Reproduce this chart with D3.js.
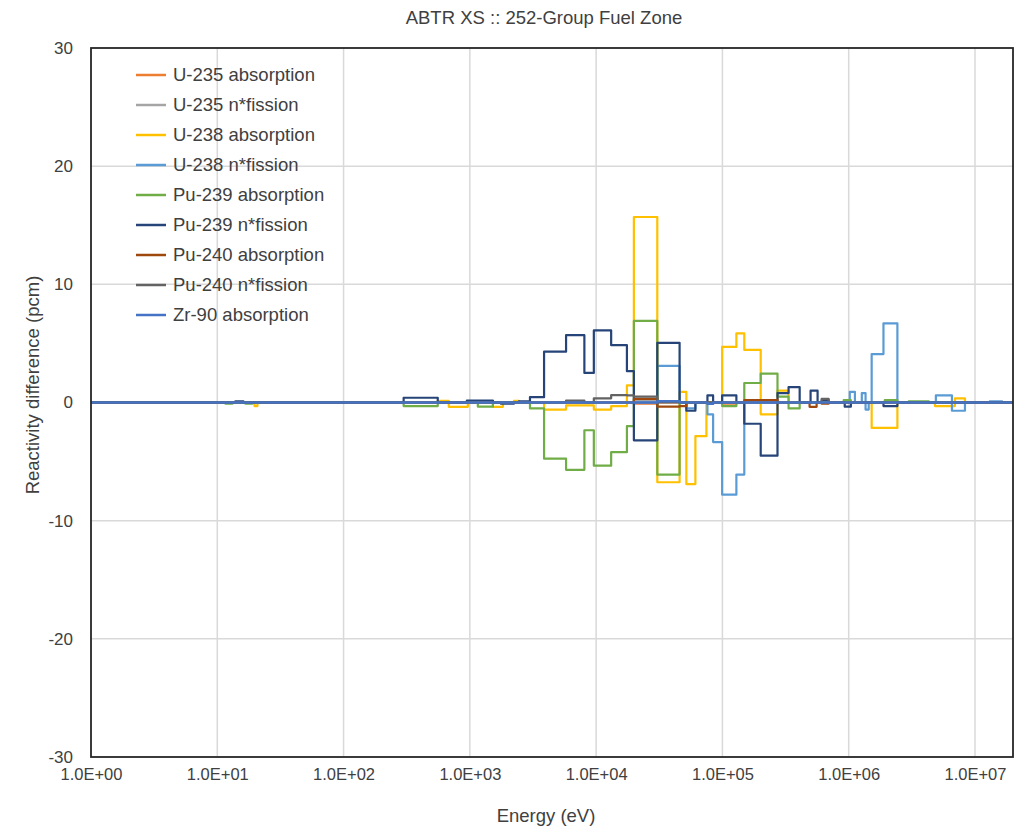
<!DOCTYPE html>
<html>
<head>
<meta charset="utf-8">
<script src="https://cdn.jsdelivr.net/npm/d3@7"></script>
<style>
  body { margin: 0; background: #fff; }
  text { font-family: "Liberation Sans", Arial, sans-serif; fill: #404040; }
</style>
</head>
<body>
<svg id="chart"></svg>
<script>
var width = 1027, height = 828;

// energy range (eV)
var xDomain = [1, 2e7];
var yDomain = [-30, 30];
var xTicks = [1, 10, 100, 1e3, 1e4, 1e5, 1e6, 1e7];
var xTickLabels = ["1.0E+00","1.0E+01","1.0E+02","1.0E+03","1.0E+04","1.0E+05","1.0E+06","1.0E+07"];
var yTicks = [-30, -20, -10, 0, 10, 20, 30];

var seriesNames = ["U-235 absorption","U-235 n*fission","U-238 absorption","U-238 n*fission",
  "Pu-239 absorption","Pu-239 n*fission","Pu-240 absorption","Pu-240 n*fission","Zr-90 absorption"];
var seriesColors = ["#ED7D31","#A5A5A5","#FFC000","#5B9BD5","#70AD47","#264478","#9E480E","#636363","#4472C4"];

// groups: [E low, E high, value in pcm]; zero elsewhere
var u235Abs = [[19900,30500,-0.1],[99500,129000,-0.1]];
var u235Fis = [[19900,30500,0.15],[30500,45800,0.1]];
var u238Abs = [[19.7,20.8,-0.3],[557,681,0.15],[681,964,-0.37],[1523,1828,-0.37],[2234,2448,0.15],
  [3870,5780,-0.6],[5780,9590,-0.25],[9590,13150,-0.6],[13150,17530,-0.3],[17530,19900,1.45],
  [19900,30500,15.7],[30500,45800,-6.75],[45800,51800,0.9],[51800,61100,-6.9],[61100,74700,-2.85],
  [99500,129000,4.7],[129000,149000,5.85],[149000,201000,4.45],[201000,273000,-1.0],[273000,334000,1.0],
  [1.52e6,2.43e6,-2.15],[4.82e6,6.93e6,-0.3],[6.93e6,8.33e6,0.35]];
var u238Fis = [[30500,45800,3.1],[51800,61100,-0.5],[76100,84400,-1.0],[84400,99500,-3.35],
  [99500,129000,-7.8],[129000,149000,-6.1],[1.02e6,1.12e6,0.9],[1.27e6,1.36e6,0.8],[1.36e6,1.44e6,-0.6],
  [1.52e6,1.885e6,4.1],[1.885e6,2.43e6,6.7],[4.9e6,6.57e6,0.6],[6.57e6,8.33e6,-0.7],[1.31e7,1.64e7,0.1]];
var pu239Abs = [[11.6,13.2,-0.1],[16.7,18.9,-0.1],[299,557,-0.3],[1157,1523,-0.35],[2993,3870,-0.5],
  [3870,5780,-4.75],[5780,8070,-5.7],[8070,9590,-2.35],[9590,13150,-5.35],[13150,17530,-4.2],
  [17530,19900,-2.0],[19900,30500,6.9],[30500,45800,-6.1],[99500,129000,-0.3],[149000,201000,1.65],
  [201000,273000,2.45],[273000,334000,0.5],[334000,409000,-0.5],[913000,1.04e6,0.2],[1.93e6,2.43e6,0.2],
  [2.99e6,4.31e6,0.1]];
var pu239Fis = [[13.9,16.1,0.1],[299,557,0.4],[947,1523,0.17],[1762,2234,-0.1],[2448,2993,0.1],
  [2993,3870,0.45],[3870,5780,4.3],[5780,8070,5.7],[8070,9590,2.5],[9590,13150,6.1],[13150,17530,4.85],
  [17530,19900,2.65],[19900,30500,-3.2],[30500,45800,5.05],[51800,61100,-0.7],[76100,84400,0.6],
  [99500,129000,0.6],[149000,201000,-1.8],[201000,273000,-4.5],[273000,334000,0.8],[334000,409000,1.3],
  [499000,567000,1.0],[611000,694000,0.2],[930000,1.04e6,-0.35],[1.885e6,2.43e6,-0.3]];
var pu240Abs = [[19900,30500,0.3],[30500,45800,-0.35],[45800,51800,-0.3],[149000,273000,0.2],
  [490000,557000,-0.37],[611000,694000,-0.1]];
var pu240Fis = [[5780,8070,0.17],[9590,13150,0.35],[13150,17530,0.62],[17530,19900,0.6],
  [19900,30500,0.5],[611000,694000,0.3]];
var zr90Abs = [[30500,45800,0.1],[76100,84400,-0.1]];

var seriesData = [u235Abs, u235Fis, u238Abs, u238Fis, pu239Abs, pu239Fis, pu240Abs, pu240Fis, zr90Abs];

var margin = {top: 48, right: 14, bottom: 71, left: 91};

var svg = d3.select("#chart")
    .attr("width", width)
    .attr("height", height);

var x = d3.scaleLog()
    .domain(xDomain)
    .range([margin.left, width - margin.right]);

var y = d3.scaleLinear()
    .domain(yDomain)
    .range([height - margin.bottom, margin.top]);

// gridlines
svg.append("g")
  .selectAll("line")
  .data(xTicks.slice(1))
  .enter()
  .append("line")
    .attr("x1", d => x(d)).attr("x2", d => x(d))
    .attr("y1", y(30)).attr("y2", y(-30))
    .attr("stroke", "#d9d9d9")
    .attr("stroke-width", 1.5);

svg.append("g")
  .selectAll("line")
  .data(yTicks.slice(1, -1))
  .enter()
  .append("line")
    .attr("x1", x(xDomain[0])).attr("x2", x(xDomain[1]))
    .attr("y1", d => y(d)).attr("y2", d => y(d))
    .attr("stroke", "#d9d9d9")
    .attr("stroke-width", 1.5);

// axes tick labels
var xAxis = d3.axisBottom(x)
    .tickValues(xTicks)
    .tickFormat((d, i) => xTickLabels[i])
    .tickSize(0)
    .tickPadding(11);

var gx = svg.append("g")
    .attr("transform", "translate(0," + y(-30) + ")")
    .call(xAxis);
gx.select(".domain").remove();
gx.selectAll("text").style("font-size", "16.5px").attr("fill", "#404040");

var yAxis = d3.axisLeft(y)
    .tickValues(yTicks)
    .tickFormat(d => String(d))
    .tickSize(0)
    .tickPadding(18);

var gy = svg.append("g")
    .attr("transform", "translate(" + x(xDomain[0]) + ",0)")
    .call(yAxis);
gy.select(".domain").remove();
gy.selectAll("text").style("font-size", "17px").attr("fill", "#404040");

// turn [lo, hi, v] groups into a contiguous step series
function toSteps(groups) {
  var pts = [];
  var cur = xDomain[0];
  groups.forEach(function(g) {
    if (g[0] > cur) pts.push([cur, 0]);
    pts.push([g[0], g[2]]);
    cur = g[1];
  });
  pts.push([cur, 0]);
  pts.push([xDomain[1], 0]);
  return pts;
}

var line = d3.line()
    .x(d => x(d[0]))
    .y(d => y(d[1]))
    .curve(d3.curveStepAfter);

svg.append("g")
  .selectAll("path")
  .data(seriesData)
  .enter()
  .append("path")
    .attr("d", d => line(toSteps(d)))
    .attr("fill", "none")
    .attr("stroke", (d, i) => seriesColors[i])
    .attr("stroke-width", (d, i) => i == 8 ? 2.5 : 2.2)
    .attr("stroke-linejoin", "round");

// plot frame
svg.append("rect")
    .attr("x", x(xDomain[0]))
    .attr("y", y(30))
    .attr("width", x(xDomain[1]) - x(xDomain[0]))
    .attr("height", y(-30) - y(30))
    .attr("fill", "none")
    .attr("stroke", "#262626")
    .attr("stroke-width", 1.8);

// legend
var legend = svg.append("g")
    .selectAll("g")
    .data(seriesNames)
    .enter()
    .append("g")
    .attr("transform", (d, i) => "translate(136," + (75 + i * 30) + ")");

legend.append("line")
    .attr("x1", 0).attr("x2", 30)
    .attr("stroke", (d, i) => seriesColors[i])
    .attr("stroke-width", 2.5);

legend.append("text")
    .attr("x", 37)
    .attr("dy", "0.35em")
    .style("font-size", "18.5px")
    .text(d => d);

// titles
svg.append("text")
    .attr("x", 544)
    .attr("y", 24)
    .attr("text-anchor", "middle")
    .style("font-size", "18.5px")
    .text("ABTR XS :: 252-Group Fuel Zone");

svg.append("text")
    .attr("x", 546)
    .attr("y", 822)
    .attr("text-anchor", "middle")
    .style("font-size", "18.5px")
    .text("Energy (eV)");

svg.append("text")
    .attr("transform", "translate(39,385) rotate(-90)")
    .attr("text-anchor", "middle")
    .style("font-size", "18.5px")
    .text("Reactivity difference (pcm)");
</script>
</body>
</html>
